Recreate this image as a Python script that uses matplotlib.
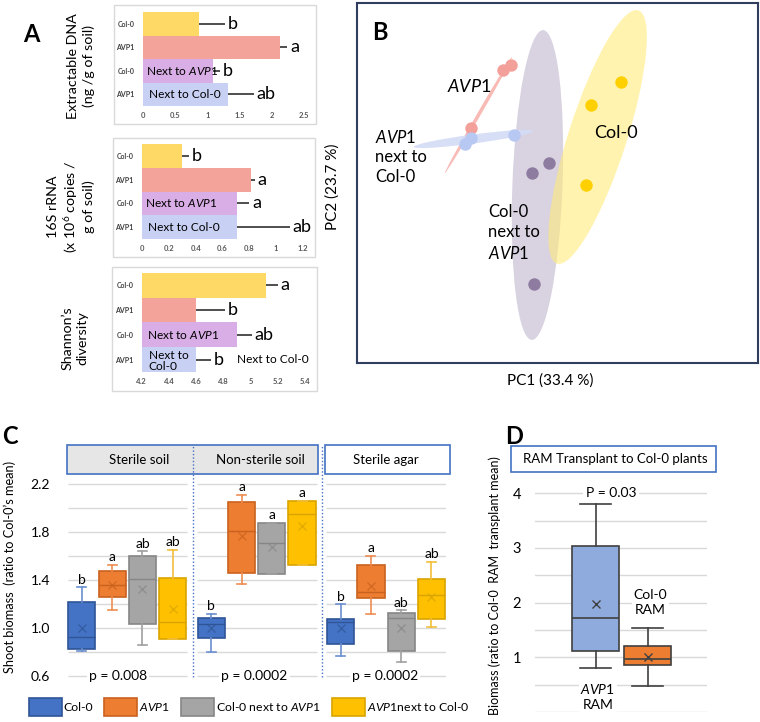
import numpy as np
import matplotlib
matplotlib.use('Agg')
import matplotlib.pyplot as plt
from matplotlib.patches import Rectangle, Ellipse, Patch

plt.rcParams['font.family'] = ['Lato', 'DejaVu Sans']
plt.rcParams['mathtext.fontset'] = 'custom'
plt.rcParams['mathtext.rm'] = 'Lato'
plt.rcParams['mathtext.it'] = 'Lato:italic'
plt.rcParams['mathtext.bf'] = 'Lato:bold'

# ---------------- data ----------------
# panel A (bars: Col-0, AVP1, Col-0 next to AVP1, AVP1 next to Col-0)
a_cats = ['Col-0', 'AVP1', 'Col-0', 'AVP1']
a_colors = ['#FFD966', '#F4A39B', '#D9AEE6', '#C8D0F3']

dna_vals = [0.87, 2.13, 1.08, 1.32]
dna_err = [0.41, 0.11, 0.12, 0.40]
dna_letters = ['b', 'a', 'b', 'ab']
dna_ticks = [0, 0.5, 1, 1.5, 2, 2.5]

rrna_vals = [0.30, 0.81, 0.71, 0.71]
rrna_err = [0.05, 0.03, 0.09, 0.39]
rrna_letters = ['b', 'a', 'a', 'ab']
rrna_ticks = [0, 0.2, 0.4, 0.6, 0.8, 1, 1.2]

shannon_vals = [5.11, 4.60, 4.90, 4.60]
shannon_err = [0.09, 0.21, 0.11, 0.11]
shannon_letters = ['a', 'b', 'ab', 'b']
shannon_ticks = [4.2, 4.4, 4.6, 4.8, 5, 5.2, 5.4]

# panel B (PCoA scores)
avp1_pc1 = [-2.33, -2.73, -4.33]
avp1_pc2 = [5.90, 5.65, 2.74]
avp1nx_pc1 = [-4.33, -4.61, -2.17]
avp1nx_pc2 = [2.25, 1.95, 2.40]
colnx_pc1 = [-0.44, -1.27, -1.17]
colnx_pc2 = [0.99, 0.52, -5.07]
col_pc1 = [3.18, 1.66, 1.42]
col_pc2 = [5.07, 3.92, -0.09]
# ellipses: Col-0 next to AVP1, Col-0, AVP1, AVP1 next to Col-0
ell_center = [(-1.0, -0.1), (2.0, 2.3), (-3.94, 3.4), (-4.2, 2.2)]
ell_major = [15.5, 13.3, 6.7, 6.0]
ell_minor = [2.5, 2.9, 0.18, 0.45]
ell_angle = [87.9, 72.2, 60.0, 7.6]

# panel C (box stats, 3 conditions x 4 genotypes)
c_conditions = ['Sterile soil', 'Non-sterile soil', 'Sterile agar']
c_groups = ['Col-0', '$\\mathit{AVP1}$', 'Col-0 next to $\\mathit{AVP1}$', '$\\mathit{AVP1}$next to Col-0']
c_whislo = [0.81, 1.15, 0.86, 0.91, 0.80, 1.37, 1.455, 1.53, 0.77, 1.12, 0.72, 1.01]
c_q1 = [0.83, 1.26, 1.04, 0.91, 0.92, 1.46, 1.455, 1.53, 0.87, 1.25, 0.81, 1.08]
c_med = [0.925, 1.36, 1.41, 1.055, 1.04, 1.81, 1.71, 1.95, 1.05, 1.30, 1.09, 1.28]
c_q3 = [1.22, 1.48, 1.60, 1.42, 1.09, 2.05, 1.88, 2.06, 1.08, 1.53, 1.13, 1.41]
c_whishi = [1.34, 1.53, 1.64, 1.65, 1.12, 2.11, 1.88, 2.06, 1.20, 1.60, 1.15, 1.55]
c_mean = [1.0, 1.36, 1.33, 1.16, 1.0, 1.77, 1.68, 1.85, 1.0, 1.35, 1.0, 1.26]
c_letters = ['b', 'a', 'ab', 'ab', 'b', 'a', 'a', 'a', 'b', 'a', 'ab', 'ab']
c_pvals = ['p = 0.008', 'p = 0.0002', 'p = 0.0002']

# panel D
d_labels = ['$\\mathit{AVP1}$\nRAM', 'Col-0\nRAM']
d_whislo = [0.80, 0.48]
d_q1 = [1.12, 0.86]
d_med = [1.71, 0.96]
d_q3 = [3.03, 1.21]
d_whishi = [3.80, 1.54]
d_mean = [1.97, 1.00]

# ---------------- figure helpers ----------------
W, H = 760, 722
fig = plt.figure(figsize=(W / 100, H / 100), dpi=100)


def px_axes(x0, y0, x1, y1):
    return fig.add_axes([x0 / W, 1 - y1 / H, (x1 - x0) / W, (y1 - y0) / H])


def px_text(x, y, s, **kw):
    return fig.text(x / W, 1 - y / H, s, **kw)


def px_box(x0, y0, x1, y1, **kw):
    fig.add_artist(Rectangle((x0 / W, 1 - y1 / H), (x1 - x0) / W, (y1 - y0) / H,
                             transform=fig.transFigure, **kw))


# ---------------- panel A ----------------
px_text(31, 34, 'A', fontsize=17, fontweight='bold', ha='center', va='center')

a_specs = [
    dict(box=(114, 5, 316, 124), ax=(143, 12, 304, 106), vals=dna_vals, err=dna_err,
         letters=dna_letters, base=0, ticks=dna_ticks,
         ylabel='Extractable DNA\n(ng /g of soil)', lab=(81, 66)),
    dict(box=(113, 138, 315, 257), ax=(142, 144, 303, 239), vals=rrna_vals, err=rrna_err,
         letters=rrna_letters, base=0, ticks=rrna_ticks,
         ylabel='16S rRNA\n(x 10$^6$ copies /\ng of soil)', lab=(71, 207)),
    dict(box=(112, 267, 317, 391), ax=(141.7, 273, 305, 372), vals=shannon_vals, err=shannon_err,
         letters=shannon_letters, base=4.2, ticks=shannon_ticks,
         ylabel='Shannon\u2019s\ndiversity', lab=(75, 338)),
]

for k, sp in enumerate(a_specs):
    px_box(*sp['box'], facecolor='none', edgecolor='#D9D9D9', lw=1)
    ax = px_axes(*sp['ax'])
    y = np.arange(4)
    vals = np.array(sp['vals'])
    ax.barh(y, vals - sp['base'], left=sp['base'], height=1.0, color=a_colors,
            xerr=[np.zeros(4), sp['err']],
            error_kw=dict(ecolor='#404040', elinewidth=1.3, capsize=0))
    for i in range(4):
        ax.annotate(sp['letters'][i], (vals[i] + sp['err'][i], y[i]), xytext=(2, 0),
                    textcoords='offset points', va='center', ha='left', fontsize=13)
    ax.set_xlim(sp['ticks'][0], sp['ticks'][-1])
    ax.set_ylim(3.5, -0.5)
    ax.set_xticks(sp['ticks'])
    ax.set_xticklabels(['{:g}'.format(t) for t in sp['ticks']], fontsize=5.5,
                       color='#595959', fontweight='bold')
    ax.set_yticks(y)
    ax.set_yticklabels(a_cats, fontsize=5, color='#404040', fontweight='bold')
    ax.tick_params(length=0, axis='x', pad=4.5)
    ax.tick_params(length=0, axis='y', pad=6)
    for s in ax.spines.values():
        s.set_visible(False)
    ax.patch.set_alpha(0)
    if k < 2:
        ax.annotate('Next to $\\mathit{AVP1}$', (sp['base'], 2), xytext=(2.5, 0),
                    textcoords='offset points', va='center', fontsize=8.6)
        ax.annotate('Next to Col-0', (sp['base'], 3), xytext=(4, 0),
                    textcoords='offset points', va='center', fontsize=8.6)
    else:
        ax.annotate('Next to $\\mathit{AVP1}$', (sp['base'], 2), xytext=(4, 0),
                    textcoords='offset points', va='center', fontsize=8.6)
        ax.annotate('Next to\nCol-0', (sp['base'], 3), xytext=(5, -1),
                    textcoords='offset points', va='center', fontsize=8.6, linespacing=1.1)
        ax.text(4.9, 3, 'Next to Col-0', va='center', fontsize=8.6)
    px_text(sp['lab'][0], sp['lab'][1], sp['ylabel'], rotation=90, ha='center', va='center',
            fontsize=10.3, linespacing=1.25, multialignment='center')

# ---------------- panel B ----------------
ax_b = px_axes(357, 3, 758, 363)
ax_b.set_xlim(-10, 10)
ax_b.set_ylim(-9, 9)
ax_b.set_xticks([])
ax_b.set_yticks([])
for s in ax_b.spines.values():
    s.set_color('#2F3D5E')
    s.set_linewidth(1.5)

ell_colors = ['#CFC7DA', '#FFEB7A', '#F7A9A3', '#D3DCF7']
ell_alpha = [0.8, 0.6, 0.8, 0.9]
for c, a, b, ang, col, al in zip(ell_center, ell_major, ell_minor, ell_angle, ell_colors, ell_alpha):
    ax_b.add_patch(Ellipse(c, a, b, angle=ang, facecolor=col, edgecolor='none', alpha=al))

ax_b.scatter(avp1_pc1, avp1_pc2, s=80, color='#F4A09A', zorder=3, linewidths=0)
ax_b.scatter(avp1nx_pc1, avp1nx_pc2, s=80, color='#B7C8F2', zorder=3, linewidths=0)
ax_b.scatter(colnx_pc1, colnx_pc2, s=80, color='#8D7BA0', zorder=3, linewidths=0)
ax_b.scatter(col_pc1, col_pc2, s=80, color='#FFD000', zorder=3, linewidths=0)

px_text(372, 33, 'B', fontsize=17, fontweight='bold', ha='left', va='center')
px_text(447, 87, '$\\mathit{AVP1}$', fontsize=13, ha='left', va='center')
px_text(594, 133, 'Col-0', fontsize=13, ha='left', va='center')
px_text(375, 157, '$\\mathit{AVP1}$\nnext to\nCol-0', fontsize=12, ha='left', va='center',
        linespacing=1.3)
px_text(488, 233, 'Col-0\nnext to\n$\\mathit{AVP1}$', fontsize=12, ha='left', va='center',
        linespacing=1.3)
px_text(550, 381, 'PC1 (33.4 %)', fontsize=11, ha='center', va='center')
px_text(333, 187, 'PC2 (23.7 %)', fontsize=11, ha='center', va='center', rotation=90)

# ---------------- panel C ----------------
px_text(10, 436, 'C', fontsize=17, fontweight='bold', ha='center', va='center')
c_faces = ['#4472C4', '#ED7D31', '#A5A5A5', '#FFC000']
c_edges = ['#2F5597', '#C9621E', '#868686', '#D9A400']
c_whisk = ['#6A8FD0', '#EE8C52', '#A0A0A0', '#F2BE3A']
sec_step = 4.27

ax_c = px_axes(66.7, 474.4, 446, 678.9)
ax_c.set_xlim(-0.5, 12.02)
ax_c.set_ylim(0.58, 2.28)
grid_vals = np.arange(0.6, 2.21, 0.2)
for s in range(3):
    ax_c.hlines(grid_vals, s * sec_step - 0.47, s * sec_step + 3.48, color='#D9D9D9', lw=1,
                zorder=0)

pos = [s * sec_step + i for s in range(3) for i in range(4)]
stats = [dict(whislo=c_whislo[j], q1=c_q1[j], med=c_med[j], q3=c_q3[j], whishi=c_whishi[j],
              mean=c_mean[j], fliers=[]) for j in range(12)]
bp = ax_c.bxp(stats, positions=pos, widths=0.9, capwidths=0.3, patch_artist=True,
              showmeans=True, manage_ticks=False)
for j in range(12):
    g = j % 4
    bp['boxes'][j].set(facecolor=c_faces[g], edgecolor=c_edges[g], lw=1.2)
    bp['medians'][j].set(color=c_edges[g], lw=1)
    bp['means'][j].set(marker='x', markeredgecolor=c_edges[g], markersize=6, alpha=0.7,
                       markeredgewidth=1)
    for w in bp['whiskers'][2 * j:2 * j + 2] + bp['caps'][2 * j:2 * j + 2]:
        w.set(color=c_whisk[g], lw=1.2)
    ax_c.text(pos[j], c_whishi[j] + 0.015, c_letters[j], ha='center', va='bottom', fontsize=10)

for s, p in enumerate([1.2, 5.7, 10.0]):
    ax_c.text(p, 0.6, c_pvals[s], ha='center', va='center', fontsize=10,
              bbox=dict(facecolor='white', edgecolor='none', pad=1.5))

for s in (1, 2):
    ax_c.axvline(s * sec_step - 0.6, ymin=0.01, ymax=1.143, clip_on=False, color='#4472C4',
                 lw=1, ls=(0, (1, 1.5)))

ax_c.set_yticks(np.arange(0.6, 2.21, 0.4))
ax_c.set_yticklabels(['{:.1f}'.format(v) for v in np.arange(0.6, 2.21, 0.4)], fontsize=10)
ax_c.set_xticks([])
ax_c.tick_params(length=0, pad=12)
for s in ax_c.spines.values():
    s.set_visible(False)
ax_c.patch.set_alpha(0)

px_box(66.7, 445, 318.3, 474.3, facecolor='#E7E6E6', edgecolor='#4472C4', lw=1.2, zorder=0)
px_box(325, 445, 450, 474.3, facecolor='white', edgecolor='#4472C4', lw=1.2, zorder=0)
px_text(139, 459.5, c_conditions[0], fontsize=9.5, ha='center', va='center')
px_text(260.5, 459.5, c_conditions[1], fontsize=9.5, ha='center', va='center')
px_text(386, 459.5, c_conditions[2], fontsize=9.5, ha='center', va='center')
px_text(10, 567, 'Shoot biomass  (ratio to Col-0\u2019s mean)', rotation=90, fontsize=9.2,
        ha='center', va='center')

handles = [Patch(facecolor=c_faces[g], edgecolor=c_edges[g], lw=1.2) for g in range(4)]
fig.legend(handles, c_groups, loc='center left', bbox_to_anchor=(29 / W, 1 - 707 / H), ncol=4,
           frameon=False, handlelength=2.7, handleheight=1.95, handletextpad=0.15,
           columnspacing=0.9, fontsize=8.8, borderaxespad=0, borderpad=0)

# ---------------- panel D ----------------
px_text(514, 436, 'D', fontsize=17, fontweight='bold', ha='center', va='center')
ax_d = px_axes(535, 476.8, 707, 712)
ax_d.set_xlim(-0.17, 3.14)
ax_d.set_ylim(0, 4.3)
ax_d.set_yticks(np.arange(0, 4.01, 0.5))
ax_d.set_yticklabels(['{:g}'.format(v) if v >= 1 and v == int(v) else ''
                      for v in np.arange(0, 4.01, 0.5)], fontsize=10.5)
ax_d.yaxis.grid(True, color='#D9D9D9', lw=1)
ax_d.set_axisbelow(True)
ax_d.set_xticks([])
ax_d.tick_params(length=0, pad=10)
for s in ax_d.spines.values():
    s.set_visible(False)
ax_d.patch.set_alpha(0)

d_stats = [dict(whislo=d_whislo[j], q1=d_q1[j], med=d_med[j], q3=d_q3[j], whishi=d_whishi[j],
                mean=d_mean[j], fliers=[]) for j in range(2)]
bpd = ax_d.bxp(d_stats, positions=[1, 2], widths=0.9, capwidths=0.6, patch_artist=True,
               showmeans=True, manage_ticks=False)
for j, fc in enumerate(['#8FAADC', '#ED7D31']):
    bpd['boxes'][j].set(facecolor=fc, edgecolor='#404040', lw=1.2)
    bpd['medians'][j].set(color='#404040', lw=1.2)
    bpd['means'][j].set(marker='x', markeredgecolor='#404040', markersize=6, markeredgewidth=1)
for w in bpd['whiskers'] + bpd['caps']:
    w.set(color='#404040', lw=1.2)

ax_d.text(1.3, 4.0, 'P = 0.03', ha='center', va='center', fontsize=10,
          bbox=dict(facecolor='white', edgecolor='none', pad=2))
ax_d.text(2.05, 2.0, d_labels[1], ha='center', va='center', fontsize=10, linespacing=1.35,
          bbox=dict(facecolor='white', edgecolor='none', pad=1))
ax_d.text(1.04, 0.28, d_labels[0], ha='center', va='center', fontsize=10, linespacing=1.35,
          bbox=dict(facecolor='white', edgecolor='none', pad=1))

px_box(510.7, 446, 715.7, 471.7, facecolor='white', edgecolor='#4472C4', lw=1.2)
px_text(615, 459, 'RAM Transplant to Col-0 plants', fontsize=9.5, ha='center', va='center')
px_text(495, 586, 'Biomass (ratio to Col-0  RAM  transplant mean)', rotation=90, fontsize=9,
        ha='center', va='center')

fig.savefig('out.png', dpi=100)
